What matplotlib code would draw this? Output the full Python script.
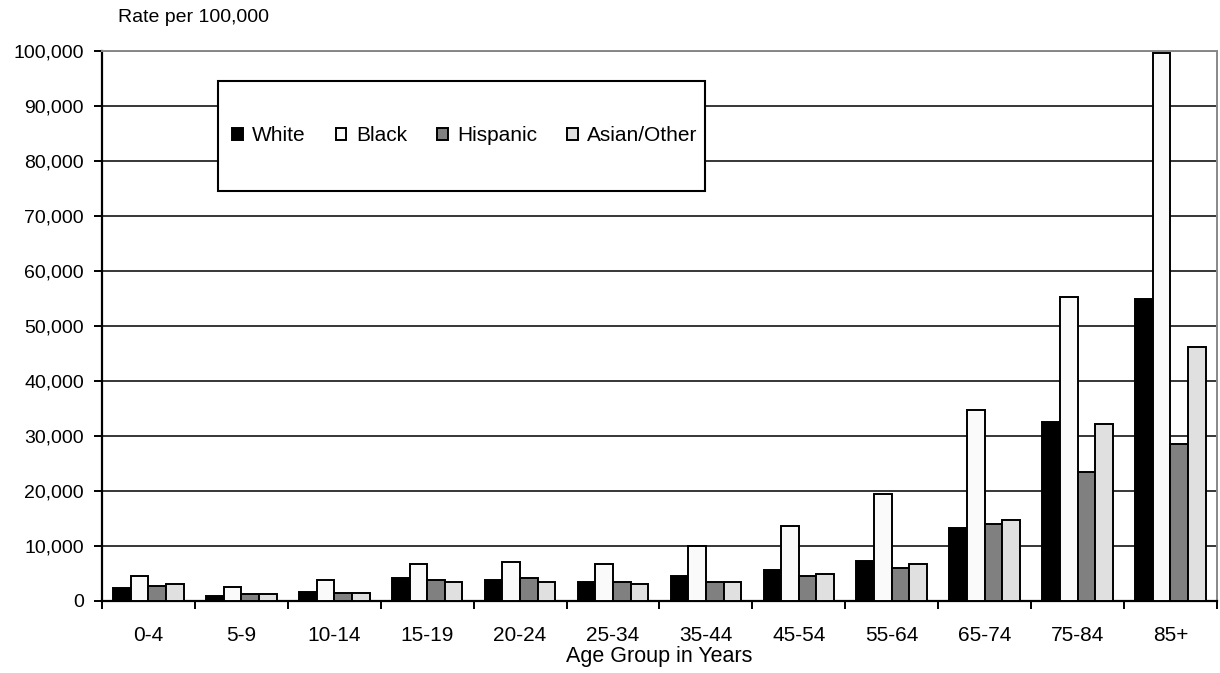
import matplotlib
matplotlib.use("Agg")
import matplotlib.pyplot as plt
import numpy as np
from matplotlib.patches import Rectangle
from matplotlib.ticker import FuncFormatter, FixedLocator

plt.rcParams['font.family'] = ['Liberation Sans', 'DejaVu Sans']

age_groups = ["0-4", "5-9", "10-14", "15-19", "20-24", "25-34", "35-44",
              "45-54", "55-64", "65-74", "75-84", "85+"]
white = [2300, 900, 1600, 4200, 3900, 3500, 4500, 5600, 7200, 13300, 32600, 55000]
black = [4500, 2600, 3800, 6700, 7000, 6700, 10000, 13600, 19400, 34700, 55300, 99600]
hispanic = [2700, 1200, 1500, 3800, 4100, 3400, 3400, 4500, 6000, 14000, 23400, 28500]
asian_other = [3000, 1200, 1500, 3400, 3400, 3000, 3400, 4900, 6700, 14700, 32100, 46200]

series = [("White", white, "#000000"),
          ("Black", black, "#FAFAFA"),
          ("Hispanic", hispanic, "#808080"),
          ("Asian/Other", asian_other, "#E0E0E0")]

fig = plt.figure(figsize=(12.2, 6.73), dpi=100)
ax = fig.add_axes([0.0836, 0.1070, 0.9139, 0.8172])

x = np.arange(len(age_groups))
bw = 0.19
for i, (name, vals, col) in enumerate(series):
    ax.bar(x + (i - 1.5) * bw, vals, width=bw, color=col, edgecolor="black",
           linewidth=1.4, label=name, zorder=3)

ax.set_xlim(-0.5, len(age_groups) - 0.5)
ax.set_ylim(0, 100000)
ax.set_yticks(np.arange(0, 100001, 10000))
ax.yaxis.set_major_formatter(FuncFormatter(lambda v, p: f"{int(v):,}"))
ax.yaxis.grid(True, color="black", linewidth=1.1, zorder=0)
ax.set_axisbelow(True)

ax.set_xticks(x)
ax.set_xticklabels(age_groups)
ax.xaxis.set_minor_locator(FixedLocator(np.arange(-0.5, len(age_groups) + 0.5, 1)))
ax.tick_params(axis="x", which="major", length=0, pad=18, labelsize=15)
ax.tick_params(axis="x", which="minor", length=6, width=1.4, direction="out")
ax.tick_params(axis="y", which="major", length=6, width=1.4, labelsize=14, pad=7)

for s in ["left", "bottom"]:
    ax.spines[s].set_color("black")
    ax.spines[s].set_linewidth(1.6)
for s in ["top", "right"]:
    ax.spines[s].set_color("#888888")
    ax.spines[s].set_linewidth(1.4)

ax.set_xlabel("Age Group in Years", fontsize=15.5, labelpad=1)
fig.text(118 / 1220, 1 - 18 / 673, "Rate per 100,000", fontsize=14, ha="left", va="center")

# legend box
rx0, ry0 = 0.104, 0.7455
rw, rh = 0.4368, 0.2
ax.add_patch(Rectangle((rx0, ry0), rw, rh, transform=ax.transAxes, facecolor="white",
                       edgecolor="black", linewidth=1.5, zorder=5))
leg = ax.legend(loc="center", bbox_to_anchor=(rx0 + 0.003, ry0, rw, rh), ncol=4, frameon=False,
                fontsize=15, handlelength=0.5, handleheight=0.5, handletextpad=0.45,
                columnspacing=1.45, borderaxespad=0, borderpad=0)
leg.set_zorder(6)

fig.savefig("out.png", dpi=100)
